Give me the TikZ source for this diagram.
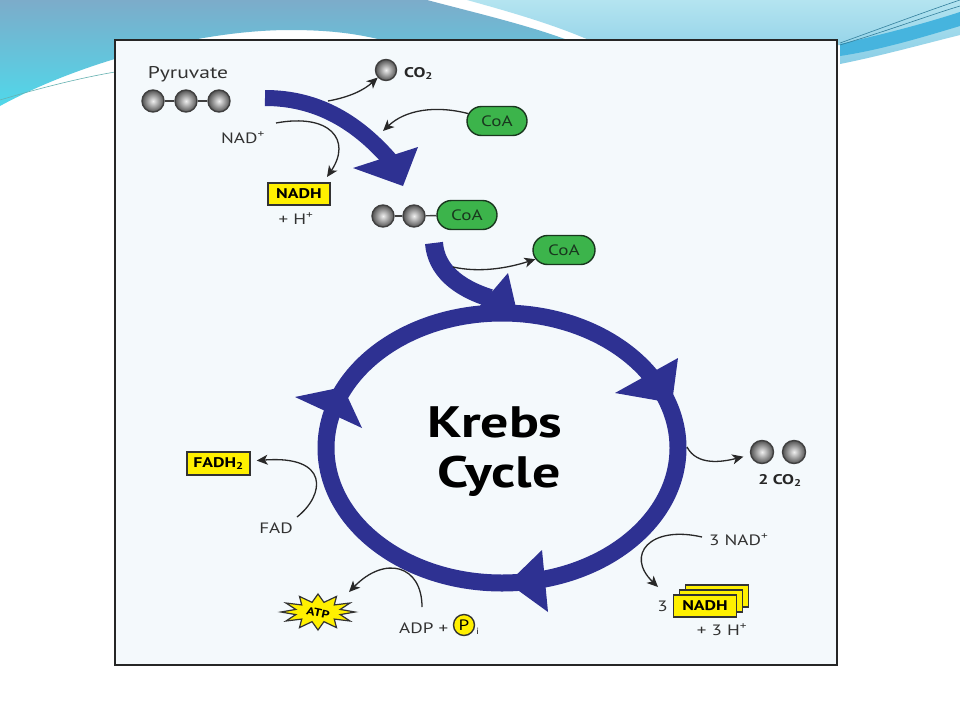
\documentclass[tikz,border=0pt]{standalone}
\usepackage{fontspec}
\setmainfont{PT Sans}[FakeStretch=1.27]
\usetikzlibrary{arrows.meta,shapes.misc,shapes.geometric}
\definecolor{ringblue}{RGB}{46,49,146}
\definecolor{framefill}{RGB}{244,249,252}
\definecolor{coagreen}{RGB}{60,180,75}
\definecolor{coaedge}{RGB}{25,55,30}
\definecolor{nyellow}{RGB}{255,240,0}
\definecolor{labgray}{RGB}{50,50,50}
\definecolor{arrgray}{RGB}{40,40,40}
\definecolor{steel}{RGB}{124,172,202}
\definecolor{cyanbg}{RGB}{80,216,234}
\definecolor{lightcyan}{RGB}{180,228,240}
\definecolor{midcyan}{RGB}{138,206,230}
\definecolor{bandblue}{RGB}{70,180,222}
\begin{document}
\begin{tikzpicture}[x=1pt,y=-1pt,
  ballst/.style={circle, minimum size=22pt, inner sep=0pt, draw=black!75, line width=1.4pt, shade, inner color=gray!12, outer color=gray!65!black},
  pill/.style={rounded rectangle, minimum width=60pt, minimum height=29pt, inner sep=0pt, draw=coaedge, line width=1.4pt, fill=coagreen, text=coaedge, font=\fontsize{15}{15}\selectfont},
  ybox/.style={rectangle, minimum width=62pt, minimum height=22pt, inner sep=0pt, draw=black!80, line width=1.4pt, fill=nyellow, font=\bfseries\fontsize{14}{14}\selectfont},
  lab/.style={inner sep=0pt, text=labgray, font=\fontsize{15}{15}\selectfont},
  blab/.style={inner sep=0pt, text=black!85, font=\bfseries\fontsize{14}{14}\selectfont},
  bigtxt/.style={inner sep=0pt, text=black, font=\bfseries\fontsize{44}{44}\selectfont},
  thinarr/.style={draw=arrgray, line width=1.3pt, -{Stealth[length=11pt,width=10pt,inset=3pt]}},
  link/.style={draw=black!75, line width=1.4pt},
  ringst/.style={draw=ringblue, line width=17pt},
  headst/.style={fill=ringblue}
]
\useasboundingbox (0,0) rectangle (960,720);
% slide background
\fill[white] (0,0) rectangle (960,720);
\shade[top color=steel, bottom color=cyanbg]
  (0,0) -- (427,0) .. controls (480,14) and (540,28) .. (580,45) -- (400,45)
  .. controls (370,36) and (340,30) .. (290,30) .. controls (200,30) and (80,62) .. (0,106) -- cycle;
\shade[top color=lightcyan, bottom color=midcyan]
  (467,0) -- (960,0) -- (960,35) .. controls (920,45) and (880,56) .. (840,64) -- (840,45) -- (600,45)
  .. controls (560,26) and (510,12) .. (467,0) -- cycle;
\fill[bandblue] (840,44) .. controls (880,35) and (920,25) .. (960,12) -- (960,26) .. controls (920,38) and (880,50) .. (840,56) -- cycle;
\draw[bandblue!70!black, line width=0.6pt] (840,43) .. controls (890,25) and (930,10) .. (960,0);
\draw[bandblue!70!black, line width=0.6pt] (840,45) .. controls (890,30) and (930,15) .. (960,6);
\draw[teal!60, line width=0.6pt] (0,100) .. controls (40,88) and (80,78) .. (115,72);
% frame
\draw[black!85, line width=2.5pt, fill=framefill] (115,40) rectangle (837,665);

% Krebs ring
\draw[ringst] (502,448) ellipse [x radius=176pt, y radius=135pt];
\fill[headst] (517,312) -- (508,273) -- (467,321) -- cycle;
\fill[headst] (672,403) -- (678,358) -- (615,393) -- cycle;
\fill[headst] (508,583) -- (542,550) -- (548,612) -- cycle;
\fill[headst] (343,387) -- (295,397) -- (362,428) -- cycle;

% big curved arrows
\draw[ringblue, line width=16pt] (265,98) .. controls (315,98) and (355,120) .. (390,160);
\fill[headst] (418,147) -- (353,168) -- (403,186) -- cycle;
\draw[ringblue, line width=18pt] (434,243) .. controls (436,270) and (458,288) .. (490,298);

% pyruvate
\node[lab, anchor=base, font=\fontsize{17}{17}\selectfont] (pyr) at (188,78) {Pyruvate};
\node[ballst] (p1) at (153,101) {};
\node[ballst] (p2) at (186,101) {};
\node[ballst] (p3) at (219,101) {};
\draw[link] (p1) -- (p2);
\draw[link] (p2) -- (p3);

% CO2 released
\node[ballst, minimum size=21pt] (co2b) at (386,70) {};
\node[blab, anchor=base west] (co2t) at (404,77) {CO\textsubscript{2}};
\coordinate (co2S) at (328,101);
\draw[thinarr] (co2S) .. controls (350,97) and (364,90) .. (co2b);

% NAD+ -> NADH
\node[lab, anchor=base] (nad1) at (243,143) {NAD\textsuperscript{+}};
\coordinate (nadS) at (276,123);
\coordinate (nadE) at (327,177);
\draw[thinarr] (nadS) .. controls (330,113) and (352,140) .. (nadE);
\node[ybox] (nadh1) at (299,194) {NADH};
\node[lab, anchor=base] (h1) at (296,224) {+ H\textsuperscript{+}};

% CoA in
\node[pill] (coa1) at (497,121) {CoA};
\coordinate (coaE) at (383,131);
\draw[thinarr] (coa1) .. controls (435,105) and (405,110) .. (coaE);

% acetyl CoA
\node[ballst] (a1) at (383,216) {};
\node[ballst] (a2) at (414,216) {};
\node[pill] (coa2) at (467,215) {CoA};
\draw[link] (a1) -- (a2);
\draw[link] (a2) -- (coa2);

% CoA out
\node[pill, minimum width=62pt] (coa3) at (564,250) {CoA};
\coordinate (accS) at (453,267);
\draw[thinarr] (accS) .. controls (480,273) and (508,268) .. (coa3);

% title
\node[bigtxt, anchor=base] (krebs) at (495,437) {Krebs};
\node[bigtxt, anchor=base] (cycle) at (499,487) {Cycle};

% 2 CO2
\node[ballst, minimum size=23pt] (c2a) at (762,452) {};
\node[ballst, minimum size=23pt] (c2b) at (794,452) {};
\node[blab, anchor=base] (c2t) at (780,484) {2 CO\textsubscript{2}};
\coordinate (rgtS) at (687,447);
\draw[thinarr, shorten >=7pt] (rgtS) .. controls (697,466) and (722,462) .. (c2a);

% 3 NAD+ -> 3 NADH
\node[lab, anchor=base west] (nad3) at (709,545) {3 NAD\textsuperscript{+}};
\coordinate (nad3S) at (702,537);
\coordinate (nad3E) at (658,587);
\draw[thinarr] (nad3S) .. controls (650,525) and (625,555) .. (nad3E);
\node[ybox, minimum width=63pt] (n3c) at (717,596) {};
\node[ybox, minimum width=63pt] (n3b) at (711,601) {};
\node[ybox, minimum width=63pt] (n3a) at (705,606) {NADH};
\node[lab, anchor=east] (three) at (668,606) {3};
\node[lab, anchor=base] (h3) at (722,635) {+ 3 H\textsuperscript{+}};

% FAD -> FADH2
\node[ybox, minimum width=63pt, minimum height=23pt] (fadh) at (218.5,463.5) {FADH\textsubscript{2}};
\node[lab, anchor=base] (fad) at (276,533) {FAD};
\coordinate (fadS) at (297,517);
\draw[thinarr, shorten >=6pt] (fadS) .. controls (325,495) and (330,455) .. (fadh);

% ADP + Pi -> ATP
\draw[fill=nyellow, draw=black!80, line width=1.2pt]
  plot[samples=24, domain=0:23, variable=\k]
  ({318+ifthenelse(mod(\k,2)==0,37,23)*cos(15*\k)}, {612+ifthenelse(mod(\k,2)==0,18,10)*sin(15*\k)}) -- cycle;
\node[inner sep=0pt, font=\bfseries\fontsize{11}{11}\selectfont, rotate=-12] (atp) at (318,613) {ATP};
\node[lab, anchor=base west] (adp) at (399,633) {ADP +};
\node[circle, draw=black!80, line width=1.4pt, fill=nyellow, minimum size=21pt, inner sep=0pt, font=\fontsize{15}{15}\selectfont] (pi) at (464,625) {P};
\node[lab, anchor=base west, font=\fontsize{9}{9}\selectfont] (isub) at (476,634) {i};
\coordinate (adpS) at (422,607);
\coordinate (atpT) at (349,592);
\draw[thinarr] (adpS) .. controls (422,565) and (385,555) .. (atpT);
\end{tikzpicture}
\end{document}
